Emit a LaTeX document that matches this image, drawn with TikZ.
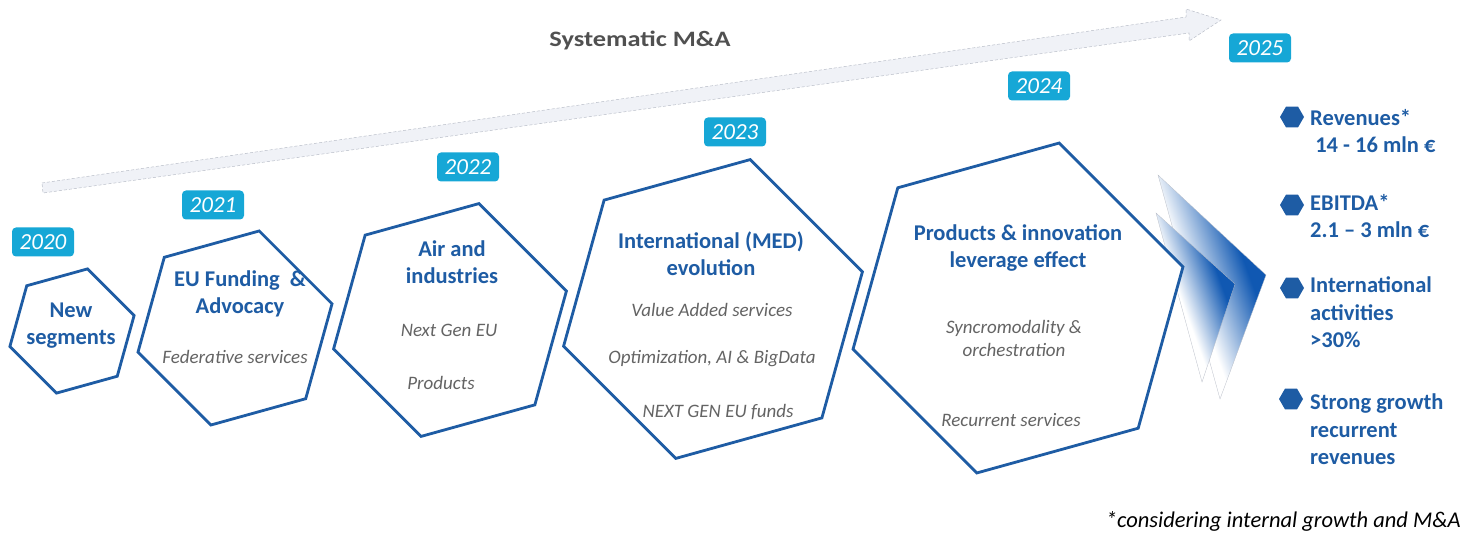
\documentclass[tikz,border=0pt]{standalone}
\usepackage{fontspec}
\setmainfont{Carlito}
\newfontfamily\titlefont[FakeStretch=1.2]{Carlito}
\usepackage{xcolor}
\usepackage{tikz}
\usetikzlibrary{shapes.geometric}

\definecolor{hexblue}{RGB}{30,92,164}
\definecolor{yearcyan}{RGB}{22,167,214}
\definecolor{itemgrey}{RGB}{100,100,100}
\definecolor{titlegrey}{RGB}{80,80,80}
\definecolor{arrowfill}{RGB}{240,242,247}
\definecolor{arrowline}{RGB}{185,190,200}
\definecolor{chevblue}{RGB}{16,88,178}

\pgfdeclarehorizontalshading{chevshade}{100bp}{color(0bp)=(white); color(43bp)=(white); color(64bp)=(chevblue); color(100bp)=(chevblue)}

\newcommand{\hexframe}[2]{\draw[hexline,shift={(#1)}] (14:#2) -- (76:#2) -- (135:#2) -- (194:#2) -- (256:#2) -- (315:#2) -- cycle;}

\begin{document}
\begin{tikzpicture}[
  x=1pt, y=1pt,
  hexline/.style={draw=hexblue, fill=white, line width=2.8pt},
  year/.style={fill=yearcyan, rounded corners=4pt, minimum width=62pt, minimum height=29pt, inner sep=0pt, text=white, font=\fontsize{23}{27}\selectfont\itshape},
  head/.style={text=hexblue, align=center, anchor=base, font=\fontsize{22.5}{27}\selectfont\bfseries},
  item/.style={text=itemgrey, align=center, anchor=base, font=\fontsize{19}{23}\selectfont\itshape},
  goal/.style={text=hexblue, align=left, anchor=base west, inner sep=0pt, font=\fontsize{22.5}{27.5}\selectfont\bfseries},
  dot/.style={regular polygon, regular polygon sides=6, fill=hexblue, minimum size=24pt, inner sep=0pt},
  chev/.style={draw=arrowline, line width=0.3pt, shading=chevshade, shading angle=20}
]
\useasboundingbox (0,0) rectangle (1463,535);

% growth arrow
\draw[fill=arrowfill, draw=arrowline, densely dashed, line width=0.5pt]
  (42,352) -- (1186,518) -- (1186,526) -- (1221,515) -- (1189,494) -- (1189,502) -- (43,342) -- cycle;
\node[text=titlegrey, anchor=base, font=\titlefont\bfseries\fontsize{22}{26}\selectfont] (sma) at (640,488) {Systematic M\&A};

% chevrons towards 2025
\shadedraw[chev] (1158,360) -- (1266,260) -- (1220,136) -- cycle;
\shadedraw[chev] (1156,322) -- (1235,251) -- (1202,153) -- cycle;

% hexagons
\coordinate (c1) at (72,204);
\coordinate (c2) at (235,207);
\coordinate (c3) at (450,215);
\coordinate (c4) at (713,226);
\coordinate (c5) at (1018,227);
\hexframe{c1}{64}
\hexframe{c2}{100}
\hexframe{c3}{120}
\hexframe{c4}{154}
\hexframe{c5}{170}

% years
\node[year] (y20) at (43,293) {2020};
\node[year] (y21) at (213,330) {2021};
\node[year] (y22) at (468,368) {2022};
\node[year] (y23) at (735,403) {2023};
\node[year] (y24) at (1039,449) {2024};
\node[year] (y25) at (1260,487) {2025};

% hexagon texts (multi-line nodes sit on their last baseline)
\node[head] (h1) at (71,190) {New\\segments};
\node[head] (h2) at (240,221) {EU Funding\ \ \&\\Advocacy};
\node[item] (i21) at (235,171) {Federative services};
\node[head] (h3) at (452,251) {Air and\\industries};
\node[item] (i31) at (449,198) {Next Gen EU};
\node[item] (i32) at (441,145) {Products};
\node[head] (h4) at (711,259) {International (MED)\\evolution};
\node[item] (i41) at (712,218) {Value Added services};
\node[item] (i42) at (712,171) {Optimization, AI \& BigData};
\node[item] (i43) at (718,117) {NEXT GEN EU funds};
\node[head] (h5) at (1018,267) {Products \& innovation\\leverage effect};
\node[item] (i51) at (1014,178) {Syncromodality \&\\orchestration};
\node[item] (i52) at (1011,108) {Recurrent services};

% 2025 targets
\node[dot] (d1) at (1292,418) {};
\node[dot] (d2) at (1292,330) {};
\node[dot] (d3) at (1292,247) {};
\node[dot] (d4) at (1291,136) {};
\node[goal] (g1) at (1310,382) {Revenues*\\\ 14 - 16 mln €};
\node[goal] (g2) at (1310,297) {EBITDA*\\2.1 – 3 mln €};
\node[goal] (g3) at (1310,187) {International\\activities\\>30\%};
\node[goal] (g4) at (1310,70) {Strong growth\\recurrent\\revenues};

\node[anchor=base east, inner sep=0pt, font=\fontsize{22.5}{27}\selectfont\itshape] (note) at (1461,8) {*considering internal growth and M\&A};
\end{tikzpicture}
\end{document}
